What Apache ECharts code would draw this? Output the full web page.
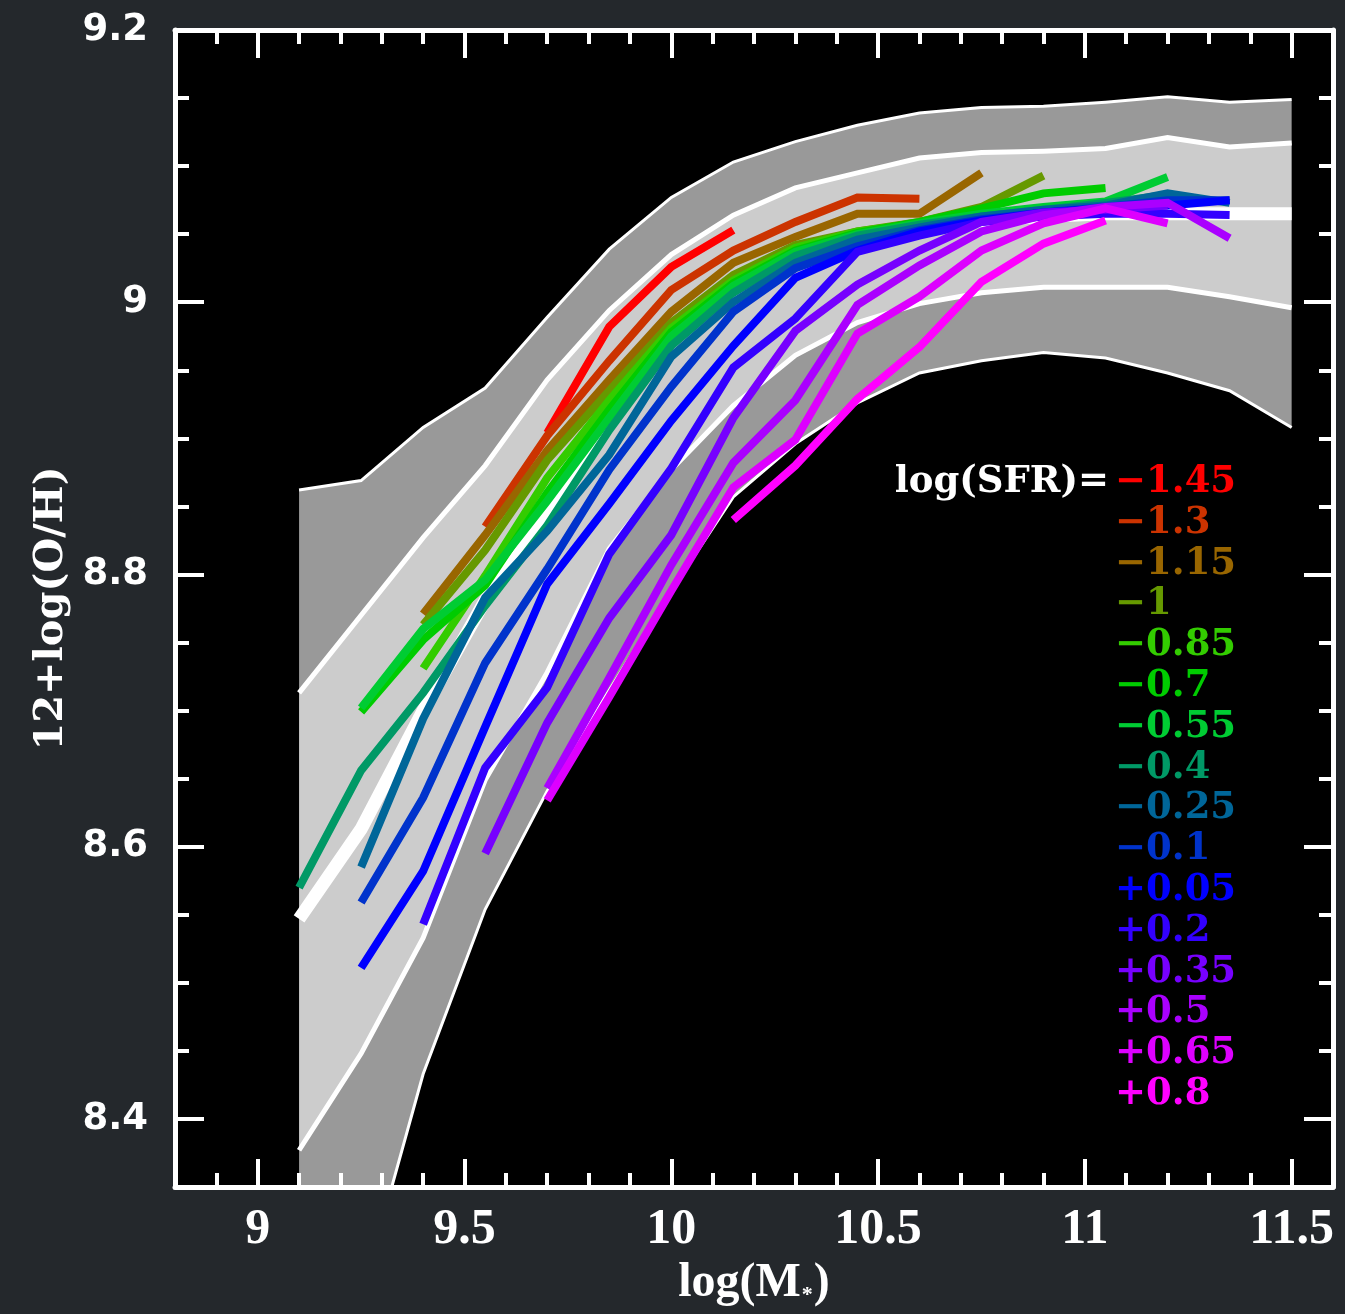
<!DOCTYPE html>
<html>
<head>
<meta charset="utf-8">
<script src="https://cdn.jsdelivr.net/npm/echarts@6/dist/echarts.min.js"></script>
<style>
  html, body { margin: 0; padding: 0; background: #24282c; }
  #chart { width: 1345px; height: 1314px; }
</style>
</head>
<body>
<div id="chart"></div>
<script>
// ---------------- DATA ----------------
const massBins = [9.1, 9.25, 9.4, 9.55, 9.7, 9.85, 10.0, 10.15, 10.3, 10.45, 10.6, 10.75, 10.9, 11.05, 11.2, 11.35, 11.5];

const outerTop    = [8.862, 8.869, 8.908, 8.937, 8.989, 9.039, 9.077, 9.103, 9.118, 9.130, 9.139, 9.143, 9.144, 9.147, 9.151, 9.147, 9.149];
const innerTop    = [8.713, 8.770, 8.827, 8.880, 8.943, 8.994, 9.035, 9.064, 9.084, 9.095, 9.106, 9.110, 9.111, 9.113, 9.121, 9.114, 9.117];
const medianOH    = [8.547, 8.613, 8.700, 8.781, 8.847, 8.919, 8.972, 9.009, 9.032, 9.046, 9.054, 9.060, 9.063, 9.065, 9.065, 9.065, 9.065];
const innerBottom = [8.377, 8.448, 8.533, 8.649, 8.728, 8.819, 8.877, 8.924, 8.961, 8.985, 8.999, 9.007, 9.011, 9.011, 9.011, 9.004, 8.996];
const outerBottom = [8.178, 8.269, 8.433, 8.554, 8.641, 8.715, 8.788, 8.857, 8.896, 8.926, 8.948, 8.957, 8.963, 8.959, 8.948, 8.935, 8.908];

const sfrLabels = ['\u22121.45', '\u22121.3', '\u22121.15', '\u22121', '\u22120.85', '\u22120.7', '\u22120.55', '\u22120.4', '\u22120.25', '\u22120.1', '+0.05', '+0.2', '+0.35', '+0.5', '+0.65', '+0.8'];

const sfrM145 = [null, null, null, null, 8.904, 8.982, 9.026, 9.053, null, null, null, null, null, null, null, null, null];
const sfrM130 = [null, null, null, 8.835, 8.902, 8.957, 9.009, 9.038, 9.059, 9.077, 9.076, null, null, null, null, null, null];
const sfrM115 = [null, null, 8.771, 8.829, 8.891, 8.943, 8.993, 9.029, 9.048, 9.065, 9.065, 9.095, null, null, null, null, null];
const sfrM100 = [null, null, 8.763, 8.818, 8.884, 8.935, 8.985, 9.020, 9.042, 9.052, 9.059, 9.070, 9.093, null, null, null, null];
const sfrM085 = [null, null, 8.731, 8.799, 8.871, 8.928, 8.981, 9.016, 9.040, 9.052, 9.058, 9.066, null, null, null, null, null];
const sfrM070 = [null, 8.699, 8.752, 8.792, 8.860, 8.921, 8.978, 9.014, 9.038, 9.051, 9.059, 9.069, 9.080, 9.084, null, null, null];
const sfrM055 = [null, 8.702, 8.760, 8.796, 8.854, 8.915, 8.975, 9.012, 9.037, 9.050, 9.058, 9.065, 9.070, 9.074, 9.092, null, null];
const sfrM040 = [8.570, 8.656, 8.713, 8.777, 8.836, 8.906, 8.968, 9.007, 9.034, 9.049, 9.057, 9.063, 9.068, 9.073, 9.079, null, null];
const sfrM025 = [null, 8.585, 8.694, 8.783, 8.832, 8.888, 8.960, 9.000, 9.029, 9.046, 9.055, 9.063, 9.068, 9.071, 9.080, 9.073, null];
const sfrM010 = [null, 8.559, 8.636, 8.735, 8.804, 8.877, 8.938, 8.993, 9.025, 9.041, 9.053, 9.061, 9.066, 9.070, 9.075, 9.075, null];
const sfrP005 = [null, 8.511, 8.582, 8.688, 8.793, 8.852, 8.913, 8.968, 9.018, 9.038, 9.052, 9.060, 9.066, 9.069, 9.071, 9.075, null];
const sfrP020 = [null, null, 8.543, 8.658, 8.717, 8.815, 8.878, 8.952, 8.988, 9.037, 9.049, 9.059, 9.063, 9.065, 9.065, 9.064, null];
const sfrP035 = [null, null, null, 8.595, 8.691, 8.768, 8.829, 8.915, 8.979, 9.013, 9.038, 9.059, 9.066, 9.068, 9.071, null, null];
const sfrP050 = [null, null, null, null, 8.643, 8.724, 8.807, 8.882, 8.928, 8.998, 9.027, 9.052, 9.064, 9.070, 9.073, 9.047, null];
const sfrP065 = [null, null, null, null, 8.634, 8.710, 8.788, 8.864, 8.899, 8.977, 9.004, 9.038, 9.058, 9.069, 9.058, null, null];
const sfrP080 = [null, null, null, null, null, null, null, 8.840, 8.880, 8.929, 8.967, 9.015, 9.043, 9.060, null, null, null];

const sfrSeriesValues = [sfrM145, sfrM130, sfrM115, sfrM100, sfrM085, sfrM070, sfrM055, sfrM040,
                         sfrM025, sfrM010, sfrP005, sfrP020, sfrP035, sfrP050, sfrP065, sfrP080];

const xTickLabels = [9, 9.5, 10, 10.5, 11, 11.5];
const yTickLabels = [8.4, 8.6, 8.8, 9.0, 9.2];

// ---------------- STYLE ----------------
const sfrColors = ['#ff0000', '#cc3300', '#996600', '#669900', '#33cc00', '#00cc00', '#00cc33', '#009966',
                   '#006699', '#0033cc', '#0000ff', '#3300ff', '#7700ff', '#aa00ff', '#dd00ff', '#ff00ff'];

const X_MIN = 8.8, X_MAX = 11.6, Y_MIN = 8.35, Y_MAX = 9.2;
const xMinor = [];
for (let k = 89; k <= 115; k++) if (k % 5 !== 0) xMinor.push(k / 10);
const yMinor = [];
for (let k = 167; k <= 183; k++) if (k % 4 !== 0) yMinor.push(k * 0.05);

// bands: [upper, lower, fill]
const bandDefs = [
  [outerTop, innerTop, '#999999'],
  [innerTop, innerBottom, '#cccccc'],
  [innerBottom, outerBottom, '#999999']
];

function pairs(vals) {
  const out = [];
  vals.forEach((v, i) => { if (v !== null) out.push([massBins[i], v]); });
  return out;
}

function xAx(position, ticks, len, labels, line) {
  return {
    type: 'value', min: X_MIN, max: X_MAX, position: position, z: 10,
    axisLine: { show: line, onZero: false, lineStyle: { color: '#fff', width: 5 } },
    axisTick: { show: true, inside: true, length: len, customValues: ticks, lineStyle: { color: '#fff', width: 4 } },
    axisLabel: labels ? {
      show: true, customValues: ticks, color: '#fff', margin: 18,
      fontFamily: 'Liberation Serif', fontWeight: 'bold', fontSize: 50,
      formatter: v => String(Math.round(v * 10) / 10)
    } : { show: false },
    splitLine: { show: false },
    name: labels ? '{a|log(M}{s|*}{a|)}' : '',
    nameLocation: 'middle', nameGap: 72,
    nameTextStyle: {
      rich: {
        a: { color: '#fff', fontFamily: 'Liberation Serif', fontWeight: 'bold', fontSize: 48 },
        s: { color: '#fff', fontFamily: 'Liberation Serif', fontWeight: 'bold', fontSize: 22, padding: [22, 1, 0, 1] }
      }
    }
  };
}
function yAx(position, ticks, len, labels, line) {
  return {
    type: 'value', min: Y_MIN, max: Y_MAX, position: position, z: 10,
    axisLine: { show: line, onZero: false, lineStyle: { color: '#fff', width: 5 } },
    axisTick: { show: true, inside: true, length: len, customValues: ticks, lineStyle: { color: '#fff', width: 4 } },
    axisLabel: labels ? {
      show: true, customValues: ticks, color: '#fff', margin: 27,
      fontFamily: 'DejaVu Sans', fontWeight: 'bold', fontSize: 37,
      formatter: v => String(Math.round(v * 10) / 10)
    } : { show: false },
    splitLine: { show: false },
    name: labels ? '12+log(O/H)' : '',
    nameLocation: 'middle', nameGap: 90,
    nameTextStyle: { color: '#fff', fontFamily: 'DejaVu Serif', fontWeight: 'bold', fontSize: 40 }
  };
}

function edgeSeries(vals, width) {
  return {
    type: 'line', data: pairs(vals), symbol: 'none', silent: true,
    lineStyle: { color: '#fff', width: width, join: 'miter' }, z: 2
  };
}

const series = [
  {
    type: 'custom', silent: true, clip: true, z: 1,
    data: bandDefs.map((b, i) => [i]),
    renderItem: function (params, api) {
      const b = bandDefs[params.dataIndex];
      const up = massBins.map((m, i) => api.coord([m, b[0][i]]));
      const lo = massBins.map((m, i) => api.coord([m, b[1][i]])).reverse();
      return { type: 'polygon', shape: { points: up.concat(lo) }, style: { fill: b[2], stroke: null } };
    }
  },
  edgeSeries(outerTop, 3),
  edgeSeries(innerTop, 5),
  edgeSeries(innerBottom, 5),
  edgeSeries(outerBottom, 3),
  { type: 'line', data: pairs(medianOH), symbol: 'none', silent: true,
    lineStyle: { color: '#fff', width: 13, join: 'miter' }, z: 3 }
];
sfrSeriesValues.forEach((vals, i) => {
  series.push({
    name: sfrLabels[i], type: 'line', data: pairs(vals), symbol: 'none',
    lineStyle: { color: sfrColors[i], width: 8, join: 'miter', cap: 'butt' },
    itemStyle: { color: sfrColors[i] },
    z: 4
  });
});

const chart = echarts.init(document.getElementById('chart'), null, { renderer: 'canvas', devicePixelRatio: 1 });
chart.setOption({
  backgroundColor: '#24282c',
  animation: false,
  grid: { left: 175, top: 30, right: 12, bottom: 127, show: true, backgroundColor: '#000000', borderWidth: 0 },
  xAxis: [
    xAx('bottom', xTickLabels, 28, true, true),
    xAx('top', xTickLabels, 28, false, true),
    xAx('top', xMinor, 14, false, false),
    xAx('bottom', xMinor, 14, false, false)
  ],
  yAxis: [
    yAx('left', yTickLabels, 29, true, true),
    yAx('right', yTickLabels, 29, false, true),
    yAx('right', yMinor, 14, false, false),
    yAx('left', yMinor, 14, false, false)
  ],
  legend: {
    orient: 'vertical', left: 1109, top: 462, padding: 0,
    itemWidth: 0, itemHeight: 0, itemGap: 0, selectedMode: false,
    data: sfrLabels.map((n, i) => ({ name: n, textStyle: { color: sfrColors[i] } })),
    textStyle: { fontFamily: 'DejaVu Serif', fontWeight: 'bold', fontSize: 37, lineHeight: 40.8, padding: 0 }
  },
  graphic: [{
    type: 'text', x: 1109, y: 482, z: 100,
    style: { text: 'log(SFR)=', fill: '#fff', font: 'bold 37px "DejaVu Serif"', align: 'right', verticalAlign: 'middle', textAlign: 'right', textVerticalAlign: 'middle' }
  }],
  series: series
});
</script>
</body>
</html>
